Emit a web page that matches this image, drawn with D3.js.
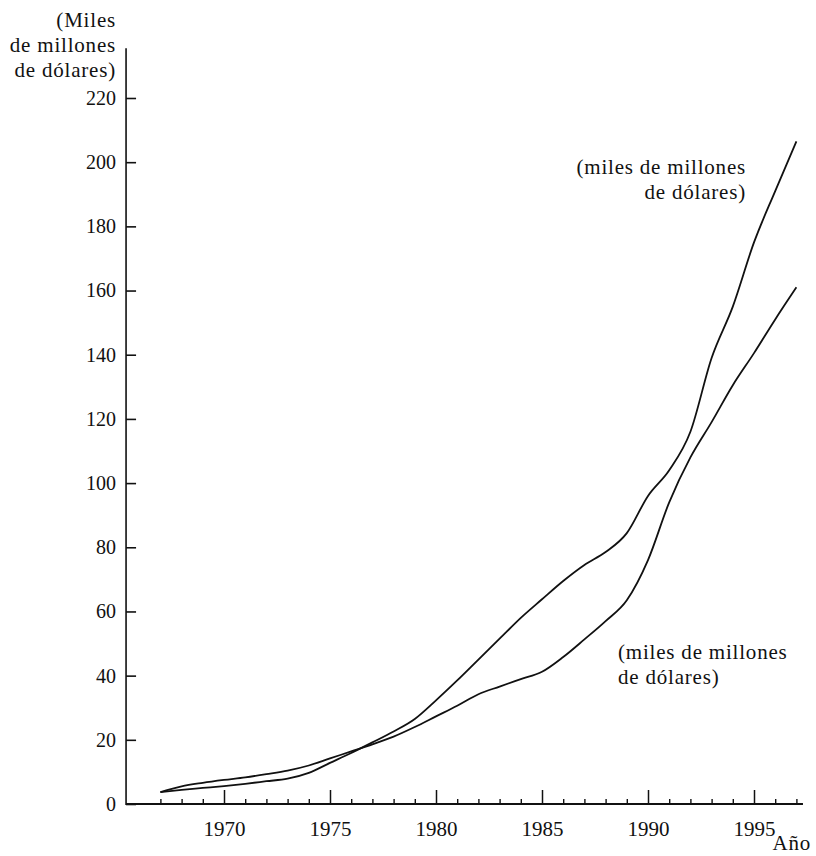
<!DOCTYPE html>
<html>
<head>
<meta charset="utf-8">
<script src="https://cdn.jsdelivr.net/npm/d3@7"></script>
<style>
  html, body { margin: 0; padding: 0; background: #fff; }
  svg { display: block; }
  text { font-family: "Liberation Serif", "Times New Roman", serif; fill: #111; }
</style>
</head>
<body>
<svg id="chart" width="816" height="856"></svg>
<script>
// ---- data ----
const years = [1967,1968,1969,1970,1971,1972,1973,1974,1975,1976,1977,1978,1979,1980,1981,1982,
               1983,1984,1985,1986,1987,1988,1989,1990,1991,1992,1993,1994,1995,1996,1997];
// series that starts lower and ends higher
const seriesA = [3.7,4.4,5.0,5.6,6.3,7.1,7.9,9.7,12.8,15.9,19.2,22.6,26.5,32.3,38.5,45.0,
                 51.5,58.0,63.8,69.5,74.5,78.5,84.4,96.0,104.0,116.0,139.0,155.0,175.0,191.0,206.5];
// series that starts higher and ends lower
const seriesB = [3.7,5.5,6.6,7.5,8.3,9.3,10.4,12.0,14.2,16.4,18.6,21.0,24.0,27.3,30.6,34.2,
                 36.6,38.9,41.2,45.8,51.3,57.0,63.5,76.0,94.0,108.0,119.0,130.5,140.5,151.0,161.0];
const yTicks = [0,20,40,60,80,100,120,140,160,180,200,220];
const xMajor = [1970,1975,1980,1985,1990,1995];
const yTitle = ["(Miles", "de millones", "de dólares)"];
const labelUpper = ["(miles de millones", "de dólares)"];
const labelLower = ["(miles de millones", "de dólares)"];
const xTitle = "Año";

// ---- scales ----
const svg = d3.select("#chart");
const x = d3.scaleLinear().domain([1970, 1995]).range([224, 754]);
const y = d3.scaleLinear().domain([0, 220]).range([804, 98]);
const xStart = 1965.38, xEnd = 1997.31, yTop = 235.5;

// ---- axes ----
const yAxis = d3.axisLeft(y).tickValues(yTicks).tickSizeInner(-10).tickSizeOuter(0).tickPadding(10);
const gy = svg.append("g").attr("transform", `translate(${x(xStart)},0)`).call(yAxis);
gy.select(".domain").remove();
gy.selectAll(".tick line").attr("stroke", "#111").attr("stroke-width", 1.6);
gy.selectAll(".tick text").attr("font-size", 20).attr("font-family", "Liberation Serif").attr("fill", "#111");

const xMinor = d3.axisBottom(x).tickValues(years.filter(v => v % 5 !== 0)).tickSizeInner(-5).tickSizeOuter(0).tickFormat("");
const gxm = svg.append("g").attr("transform", `translate(0,${y(0)})`).call(xMinor);
gxm.select(".domain").remove();
gxm.selectAll(".tick line").attr("stroke", "#111").attr("stroke-width", 1.4);

const xAxis = d3.axisBottom(x).tickValues(xMajor).tickSizeInner(-14).tickSizeOuter(0).tickPadding(17).tickFormat(d3.format("d"));
const gx = svg.append("g").attr("transform", `translate(0,${y(0)})`).call(xAxis);
gx.select(".domain").remove();
gx.selectAll(".tick line").attr("stroke", "#111").attr("stroke-width", 1.5);
gx.selectAll(".tick text").attr("font-size", 21).attr("font-family", "Liberation Serif").attr("fill", "#111");

// axis lines
svg.append("line").attr("x1", x(xStart)).attr("x2", x(xStart)).attr("y1", y(yTop)).attr("y2", y(0) + 1)
  .attr("stroke", "#111").attr("stroke-width", 1.6);
svg.append("line").attr("x1", x(xStart)).attr("x2", x(xEnd)).attr("y1", y(0)).attr("y2", y(0))
  .attr("stroke", "#111").attr("stroke-width", 2);

// ---- lines ----
const line = d3.line().x((d, i) => x(years[i])).y(d => y(d)).curve(d3.curveMonotoneX);
[seriesA, seriesB].forEach(s => {
  svg.append("path").datum(s).attr("d", line).attr("fill", "none")
    .attr("stroke", "#111").attr("stroke-width", 1.8).attr("stroke-linejoin", "round");
});

// ---- text ----
function block(lines, xPos, baselines, anchor) {
  const t = svg.append("text").attr("font-size", 21).attr("text-anchor", anchor).attr("letter-spacing", 0.8);
  lines.forEach((s, i) => t.append("tspan").attr("x", xPos).attr("y", baselines[i]).text(s));
}
block(yTitle, 116, [27, 52, 77], "end");
block(labelUpper, 746, [174, 199], "end");
block(labelLower, 618, [659, 684], "start");
svg.append("text").attr("x", 811).attr("y", 850).attr("text-anchor", "end")
  .attr("font-size", 21).attr("letter-spacing", 0.8).text(xTitle);
</script>
</body>
</html>
